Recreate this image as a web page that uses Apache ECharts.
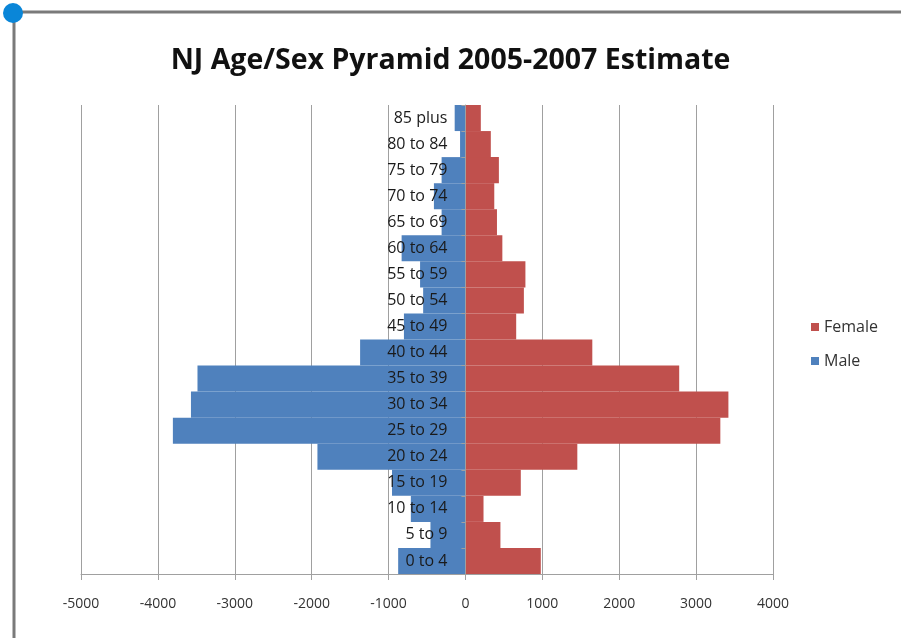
<!DOCTYPE html>
<html>
<head>
<meta charset="utf-8">
<script src="https://cdn.jsdelivr.net/npm/echarts@6/dist/echarts.min.js"></script>
<style>
html,body{margin:0;padding:0;background:#fff;}
#chart{width:901px;height:638px;}
</style>
</head>
<body>
<div id="chart"></div>
<script>
const titleText = 'NJ Age/Sex Pyramid 2005-2007 Estimate';
const ageGroups = ['0 to 4','5 to 9','10 to 14','15 to 19','20 to 24','25 to 29','30 to 34','35 to 39','40 to 44','45 to 49','50 to 54','55 to 59','60 to 64','65 to 69','70 to 74','75 to 79','80 to 84','85 plus'];
const maleValues = [-875,-455,-710,-955,-1925,-3805,-3570,-3485,-1370,-800,-550,-590,-830,-310,-410,-310,-70,-140];
const femaleValues = [980,455,235,720,1455,3315,3420,2780,1650,660,760,780,480,410,375,435,330,200];
const xTicks = {min:-5000, max:4000, interval:1000};

const GRID_LEFT = 81, GRID_RIGHT = 128;
const plotW = 901 - GRID_LEFT - GRID_RIGHT;
const zeroOffset = -plotW * (0 - xTicks.min) / (xTicks.max - xTicks.min);

const chart = echarts.init(document.getElementById('chart'), null, {renderer:'canvas'});
const FONT = '"Open Sans", "Liberation Sans", sans-serif';
chart.setOption({
  animation:false,
  backgroundColor:'#ffffff',
  title:{
    text:titleText,
    left:'center', top:41,
    textStyle:{fontFamily:FONT, fontSize:28.5, fontWeight:'bold', color:'#111'}
  },
  legend:{
    data:['Female','Male'],
    orient:'vertical',
    left:806, top:314,
    itemWidth:8, itemHeight:8, itemGap:18,
    icon:'rect',
    textStyle:{fontFamily:FONT, fontSize:16, color:'#333'}
  },
  grid:{left:GRID_LEFT, right:GRID_RIGHT, top:105, bottom:64, containLabel:false},
  xAxis:{
    type:'value',
    min:xTicks.min, max:xTicks.max, interval:xTicks.interval,
    axisLine:{show:true, lineStyle:{color:'#a0a0a0', width:1}},
    axisTick:{show:true, length:6, lineStyle:{color:'#a0a0a0'}},
    axisLabel:{fontFamily:FONT, fontSize:14, color:'#333', margin:23,
      formatter:function(v){return String(v);}},
    splitLine:{show:true, lineStyle:{color:'#a0a0a0', width:1}}
  },
  yAxis:{
    type:'category',
    data:ageGroups,
    z:10,
    offset:zeroOffset,
    axisLine:{show:true, onZero:false, lineStyle:{color:'#a0a0a0'}},
    axisTick:{show:true, length:4, lineStyle:{color:'#a0a0a0'}},
    axisLabel:{fontFamily:FONT, fontSize:16, color:'#1a1a1a', margin:18}
  },
  series:[
    {name:'Male', type:'bar', data:maleValues, barGap:'-100%', barCategoryGap:0,
     itemStyle:{color:'#4F81BD'}},
    {name:'Female', type:'bar', data:femaleValues, barGap:'-100%', barCategoryGap:0,
     itemStyle:{color:'#C0504D'}}
  ],
  graphic:[
    {type:'line', shape:{x1:13, y1:12, x2:901, y2:12}, style:{stroke:'#7a7a7a', lineWidth:3}},
    {type:'line', shape:{x1:14, y1:12, x2:14, y2:638}, style:{stroke:'#7a7a7a', lineWidth:3}},
    {type:'circle', shape:{cx:13, cy:13, r:10}, style:{fill:'#0a86d8'}}
  ]
});
</script>
</body>
</html>
